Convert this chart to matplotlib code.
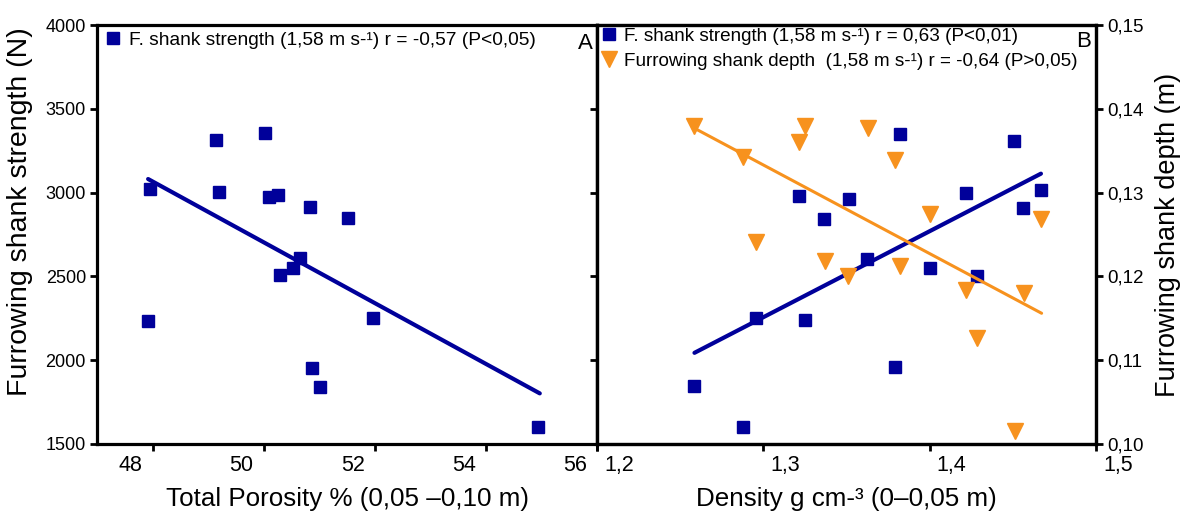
import matplotlib
matplotlib.use("Agg")
import matplotlib.pyplot as plt
import matplotlib.transforms as mtransforms
from matplotlib.ticker import FuncFormatter
from matplotlib.lines import Line2D

plt.rcParams['font.family'] = ['Liberation Sans', 'DejaVu Sans']

BLUE = '#00009a'
ORANGE = '#f7921e'

# A: total porosity vs shank strength
por_x = [47.95, 47.92, 49.15, 49.19, 50.03, 50.10, 50.25, 50.30,
         50.52, 50.66, 50.84, 50.87, 51.02, 51.51, 51.96, 54.94]
por_force = [3020, 2234, 3312, 3004, 3355, 2972, 2988, 2506,
             2551, 2611, 2915, 1952, 1843, 2851, 2250, 1600]
por_fit_x = [47.92, 54.97]
por_fit_y = [3081, 1802]

# B: density vs shank strength and shank depth
dens_x = [1.2584, 1.2880, 1.2954, 1.3251, 1.3215, 1.3366, 1.3516, 1.3625,
          1.3791, 1.3821, 1.4002, 1.4219, 1.4287, 1.4510, 1.4564, 1.4669]
dens_force = [1845, 1600, 2254, 2238, 2982, 2845, 2964, 2605,
              1957, 3347, 2550, 3000, 2504, 3306, 2911, 3014]
dens_fit_x = [1.2586, 1.4669]
dens_fit_y = [2044, 3113]

depth_x = [1.2584, 1.2875, 1.3253, 1.3215, 1.3627, 1.3793, 1.4004, 1.4667,
           1.2954, 1.3369, 1.3512, 1.3821, 1.4221, 1.4566, 1.4287, 1.4514]
depth_y = [0.1379, 0.1343, 0.1379, 0.1360, 0.1377, 0.1339, 0.1274, 0.1269,
           0.1241, 0.1218, 0.1200, 0.1212, 0.1184, 0.1180, 0.1127, 0.1016]
depth_fit_x = [1.2584, 1.4673]
depth_fit_y = [0.1377, 0.1156]

force_ticks = [1500, 2000, 2500, 3000, 3500, 4000]
por_ticks = [48, 50, 52, 54, 56]
dens_ticks = [1.2, 1.3, 1.4, 1.5]
depth_ticks = [0.10, 0.11, 0.12, 0.13, 0.14, 0.15]


def comma(fmt):
    return FuncFormatter(lambda v, p: (fmt % v).replace('.', ','))


def style(ax):
    for s in ax.spines.values():
        s.set_linewidth(2.3)
    ax.tick_params(direction='out', length=5, width=2, pad=3)
    ax.tick_params(axis='x', labelsize=15.5)
    ax.tick_params(axis='y', labelsize=13.5)


def nudge(labels, dx, fig):
    # shift tick labels sideways (pixels)
    off = mtransforms.ScaledTranslation(dx / 100, 0, fig.dpi_scale_trans)
    for lab in labels:
        lab.set_transform(lab.get_transform() + off)


W, H = 1182, 512
fig = plt.figure(figsize=(W / 100, H / 100), dpi=100)
axa = fig.add_axes([97 / W, 1 - 444 / H, 500 / W, 419 / H])
axb = fig.add_axes([597 / W, 1 - 444 / H, 499 / W, 419 / H])

# panel A
axa.plot(por_fit_x, por_fit_y, color=BLUE, lw=3, solid_capstyle='round', zorder=2)
axa.plot(por_x, por_force, 's', color=BLUE, ms=8.5, zorder=3)
axa.set_xlim(47, 56)
axa.set_ylim(1500, 4000)
axa.set_xticks(por_ticks)
axa.set_yticks(force_ticks)
axa.tick_params(right=False, top=False)
style(axa)
axa.tick_params(axis='y', labelsize=13)
axa.set_xlabel('Total Porosity % (0,05 \u20130,10 m)', fontsize=18.7, labelpad=8)
axa.set_ylabel('Furrowing shank strength (N)', fontsize=20.5)
axa.yaxis.set_label_coords(-0.127, 0.554)
axa.text(0.992, 0.982, 'A', transform=axa.transAxes, ha='right', va='top', fontsize=16)
ha = [Line2D([], [], marker='s', ls='', color=BLUE, ms=8.5)]
axa.legend(ha, ['F. shank strength (1,58 m s-\u00b9) r = -0,57 (P<0,05)'],
           loc='upper left', frameon=False, fontsize=13.8, handletextpad=0.3,
           borderaxespad=0.05, borderpad=0.3, handlelength=1.0)

# panel B
axb.plot(dens_fit_x, dens_fit_y, color=BLUE, lw=3, solid_capstyle='round', zorder=2)
axb.plot(dens_x, dens_force, 's', color=BLUE, ms=8.5, zorder=3)
axb.set_xlim(1.2, 1.5)
axb.set_ylim(1500, 4000)
axb.set_xticks(dens_ticks)
axb.set_yticks(force_ticks)
axb.xaxis.set_major_formatter(comma('%.1f'))
axb.tick_params(labelleft=False)
style(axb)
axb.set_xlabel('Density g cm-\u00b3 (0\u20130,05 m)', fontsize=18.7, labelpad=8)

axr = axb.twinx()
axr.plot(depth_fit_x, depth_fit_y, color=ORANGE, lw=2.2, solid_capstyle='round', zorder=2)
axr.plot(depth_x, depth_y, 'v', color=ORANGE, ms=11, zorder=3)
axr.set_ylim(0.10, 0.15)
axr.set_yticks(depth_ticks)
axr.yaxis.set_major_formatter(comma('%.2f'))
style(axr)
axr.tick_params(axis='y', pad=3)
axr.set_ylabel('Furrowing shank depth (m)', fontsize=19.5, labelpad=8)
axr.text(0.99, 0.985, 'B', transform=axr.transAxes, ha='right', va='top', fontsize=16)
hb = [Line2D([], [], marker='s', ls='', color=BLUE, ms=8),
      Line2D([], [], marker='v', ls='', color=ORANGE, ms=11)]
axr.legend(hb, ['F. shank strength (1,58 m s-\u00b9) r = 0,63 (P<0,01)',
                'Furrowing shank depth  (1,58 m s-\u00b9) r = -0,64 (P>0,05)'],
           loc='upper left', frameon=False, fontsize=13.6, handletextpad=0.3,
           borderaxespad=0.0, borderpad=0.15, handlelength=1.0, labelspacing=0.4)

fig.canvas.draw()
nudge(axa.get_xticklabels(), -22, fig)
nudge(axb.get_xticklabels(), 22, fig)

fig.savefig('out.png', dpi=100)
